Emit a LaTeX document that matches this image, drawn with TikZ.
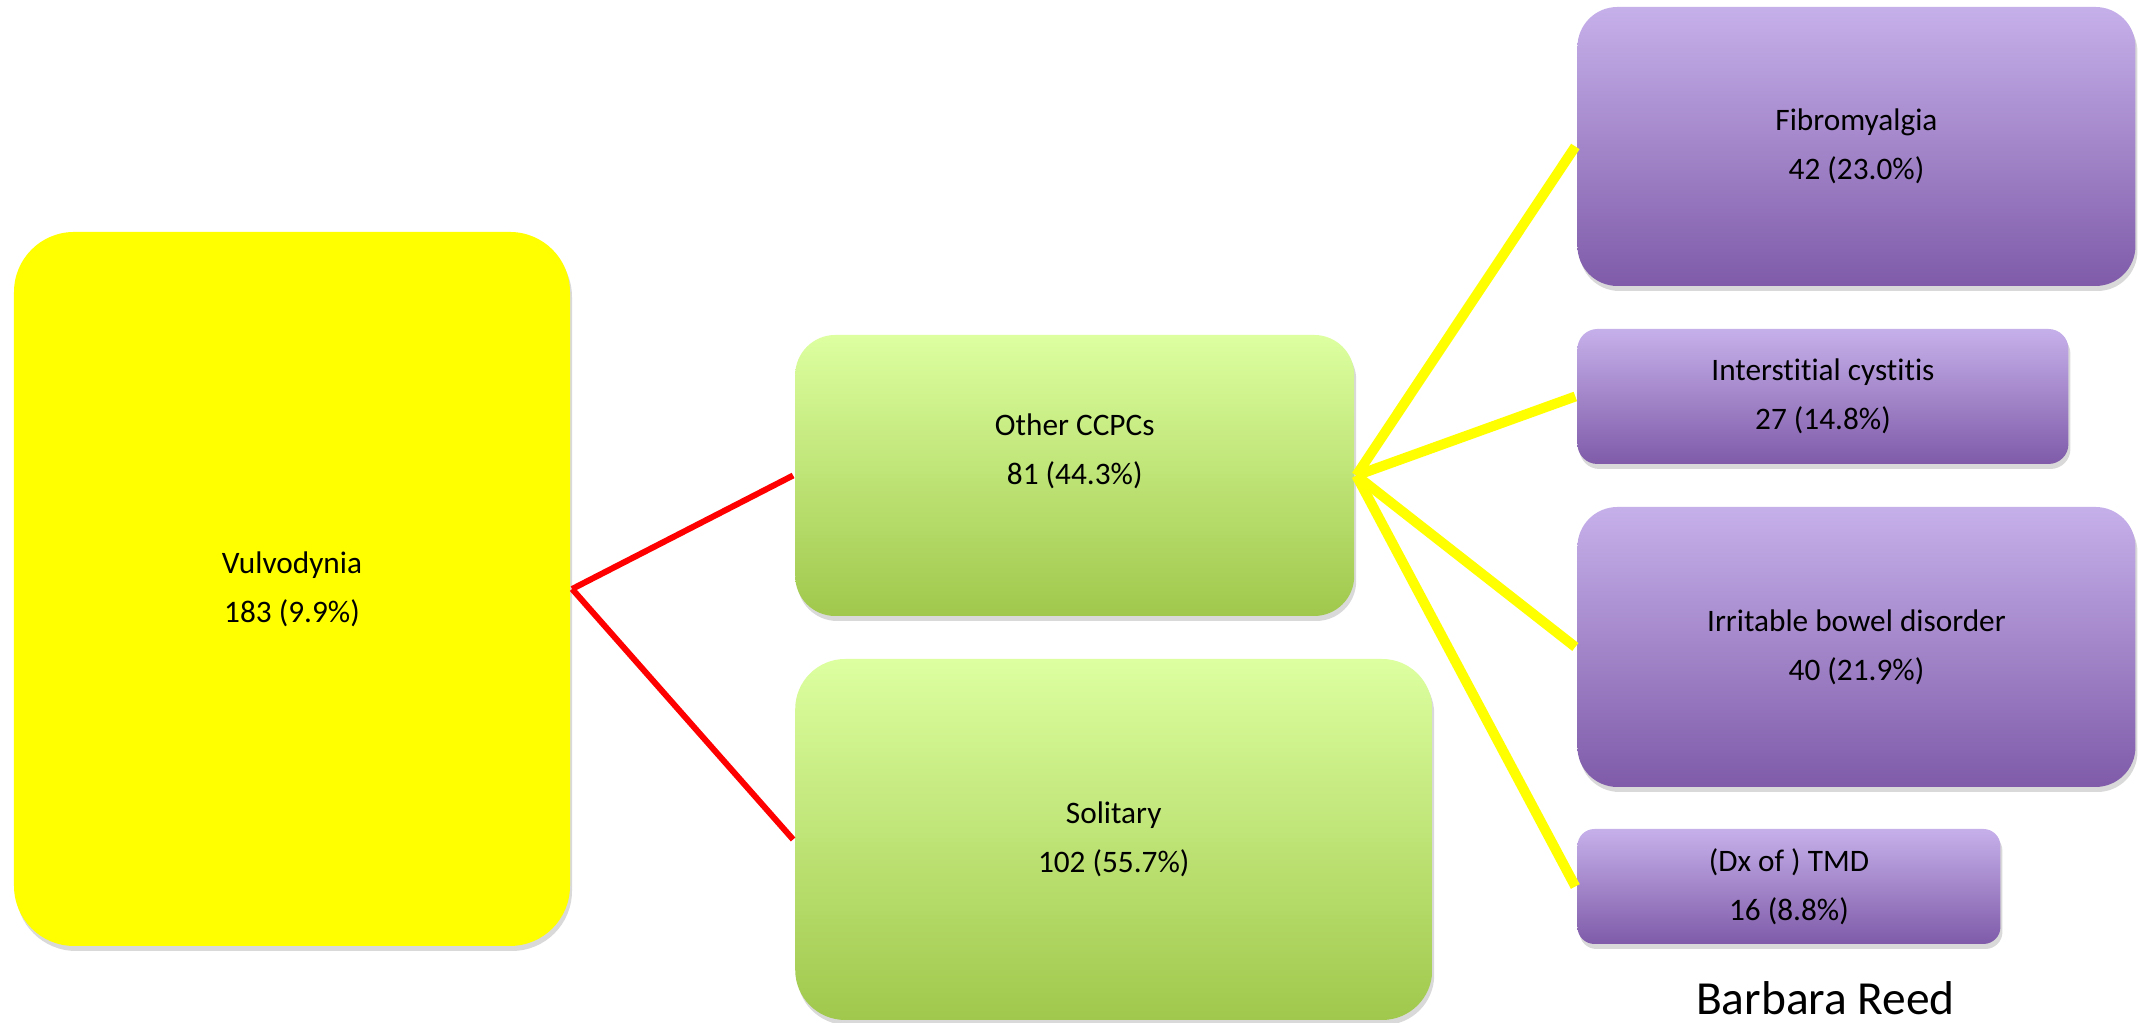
\documentclass[tikz,border=0pt]{standalone}
\usepackage{fontspec}
\setmainfont{Carlito}[Ligatures=CommonOff]
\usepackage{tikz}
\usetikzlibrary{positioning,shadows}

\definecolor{vulvoyellow}{RGB}{255,255,0}
\definecolor{greentop}{RGB}{221,255,160}
\definecolor{greenbot}{RGB}{160,200,76}
\definecolor{purpletop}{RGB}{198,176,234}
\definecolor{purplebot}{RGB}{127,91,169}

\begin{document}
\begin{tikzpicture}[very thick]
	\tikzstyle{all nodes}=[shape=rectangle]
	\tikzstyle{box}=[align=center, inner sep=0pt,
		font=\fontsize{8.9}{13.9}\selectfont,
		drop shadow={opacity=0.3, shadow xshift=0.02cm, shadow yshift=-0.05cm}]
	\tikzstyle{greenbox}=[box, top color=greentop, bottom color=greenbot]
	\tikzstyle{purplebox}=[box, top color=purpletop, bottom color=purplebot]
	\tikzstyle{redline}=[red, line width=0.06cm]
	\tikzstyle{yellowline}=[vulvoyellow, line width=0.1cm]
	\useasboundingbox (0,0) rectangle (21.38,10.23);
	% % Nodes
	% vulvodynia
	\node[box, fill=vulvoyellow, minimum width=5.56cm, minimum height=7.14cm,
		  rounded corners=0.6cm]
	(vulvo) at (2.92,4.34)
	{Vulvodynia\\183 (9.9\%)};
	% other ccpcs
	\node[greenbox, right=2.21cm of vulvo.east, yshift=1.135cm,
		  minimum width=5.59cm, minimum height=2.81cm, rounded corners=0.4cm]
	(other) {};
	\node[font=\fontsize{8.9}{13.9}\selectfont, align=center]
	(othertext) at ([yshift=0.24cm]other.center)
	{Other CCPCs\\81 (44.3\%)};
	% solitary
	\node[greenbox, right=2.21cm of vulvo.east, yshift=-2.505cm,
		  minimum width=6.37cm, minimum height=3.61cm, rounded corners=0.5cm]
	(solitary)
	{Solitary\\102 (55.7\%)};
	% fibromyalgia
	\node[purplebox, right=2.19cm of other.east, yshift=3.29cm,
		  minimum width=5.58cm, minimum height=2.79cm, rounded corners=0.4cm]
	(fibro)
	{Fibromyalgia\\42 (23.0\%)};
	% interstitial cystitis
	\node[purplebox, right=2.19cm of other.east, yshift=0.79cm,
		  minimum width=4.91cm, minimum height=1.35cm, rounded corners=0.2cm]
	(cystitis)
	{Interstitial cystitis\\27 (14.8\%)};
	% irritable bowel
	\node[purplebox, right=2.19cm of other.east, yshift=-1.715cm,
		  minimum width=5.58cm, minimum height=2.80cm, rounded corners=0.4cm]
	(bowel)
	{Irritable bowel disorder\\40 (21.9\%)};
	% tmd
	\node[purplebox, right=2.19cm of other.east, yshift=-4.11cm,
		  minimum width=4.23cm, minimum height=1.15cm, rounded corners=0.17cm]
	(tmd)
	{(Dx of ) TMD\\16 (8.8\%)};
	% author
	\node[below=0.68cm of tmd.south, anchor=base, xshift=0.365cm, inner sep=0pt,
		  font=\fontsize{13.5}{15}\selectfont]
	(author) {Barbara Reed};
	% % Connectors
	\draw [redline] (vulvo.east) -- (other.west);
	\draw [redline] (vulvo.east) -- (solitary.west);
	\draw [yellowline] (other.east) -- (fibro.west);
	\draw [yellowline] (other.east) -- (cystitis.west);
	\draw [yellowline] (other.east) -- (bowel.west);
	\draw [yellowline] (other.east) -- (tmd.west);
\end{tikzpicture}
\end{document}
